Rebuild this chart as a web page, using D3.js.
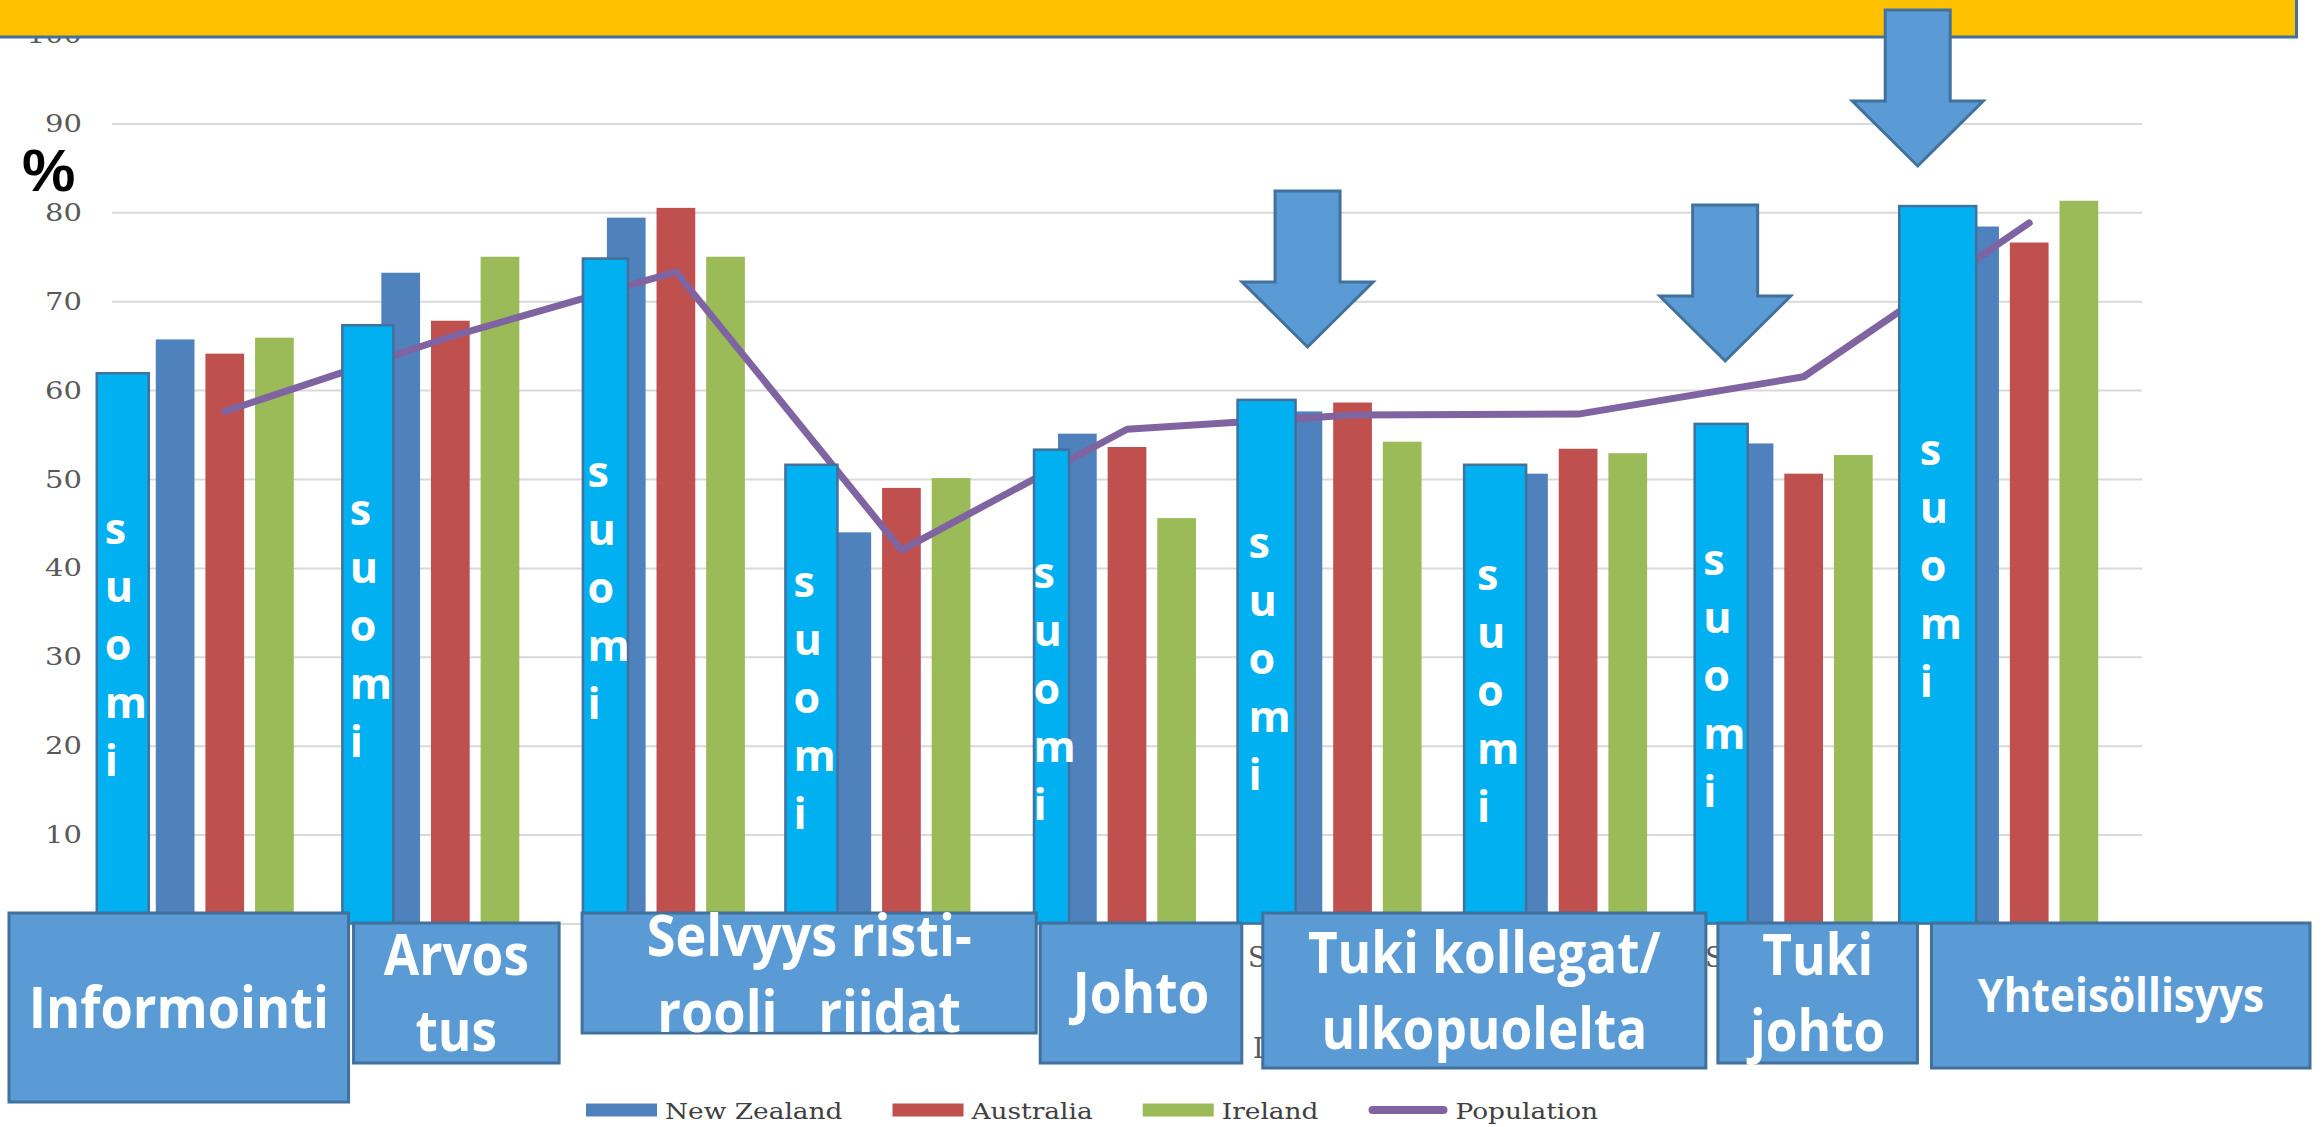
<!DOCTYPE html>
<html>
<head>
<meta charset="utf-8">
<script src="https://cdn.jsdelivr.net/npm/d3@7"></script>
<style>
  body { margin: 0; background: #fff; overflow: hidden; }
  svg { display: block; }
</style>
</head>
<body>
<div id="chart"></div>
<script>
// Data
const categories = ['Informointi', 'Arvostus', 'Selvyys rooli', 'Ristiriidat', 'Johto',
  'Tuki kollegat', 'Tuki ulkopuolelta', 'Tuki johto', 'Yhteisöllisyys'];
const seriesNames = ['New Zealand', 'Australia', 'Ireland'];
const newZealand = [65.7, 73.2, 79.4, 44.0, 55.1, 57.6, 50.6, 54.0, 78.4];
const australia = [64.1, 67.8, 80.5, 49.0, 53.6, 58.6, 53.4, 50.6, 76.6];
const ireland = [65.9, 75.0, 75.0, 50.1, 45.6, 54.2, 52.9, 52.7, 81.3];
const population = [57.6, 66.0, 73.3, 42.0, 55.6, 57.2, 57.3, 61.5, 78.8];
const suomi = [61.9, 67.3, 74.8, 51.6, 53.3, 58.9, 51.6, 56.2, 80.7];
const yTicks = [0, 10, 20, 30, 40, 50, 60, 70, 80, 90, 100];
const suomiLetters = ['s', 'u', 'o', 'm', 'i'];
const boxLabels = [['Informointi'], ['Arvos', 'tus'], ['Selvyys risti-', 'rooli   riidat'], ['Johto'],
  ['Tuki kollegat/', 'ulkopuolelta'], ['Tuki', 'johto'], ['Yhteisöllisyys']];
const arrowTargets = ['Tuki kollegat', 'Tuki johto', 'Yhteisöllisyys'];

// hand placed overlay shapes (px). suomi: [left, right] from category centre, first letter below bar top
const suomiPlace = [[-128, -76, 171], [-108, -57, 200], [-93, -48, 228], [-116, -64, 132], [-93, -58, 138],
  [-115, -57, 158], [-114, -52, 125], [-109, -56, 151], [-130, -53, 259]];
// label boxes: first/last category, offsets of left/right edge, top/bottom
const boxPlace = [
  { from: 0, to: 0, dl: -103, dr: 11, top: 913, bottom: 1102, size: 58 },
  { from: 1, to: 1, dl: 16, dr: -4, top: 923, bottom: 1063, size: 57 },
  { from: 2, to: 3, dl: 19, dr: 22, top: 913, bottom: 1033, size: 58 },
  { from: 4, to: 4, dl: 26, dr: 2, top: 923, bottom: 1063, size: 57 },
  { from: 5, to: 6, dl: 23, dr: 15, top: 913, bottom: 1068, size: 57 },
  { from: 7, to: 7, dl: 27, dr: 1, top: 923, bottom: 1063, size: 57 },
  { from: 8, to: 8, dl: 15, dr: 168, top: 923, bottom: 1068, size: 47 },
];
const arrowPlace = [{ dx: -45, top: 191 }, { dx: -78.5, top: 205 }, { dx: -111.5, top: 10 }];

// Variables
const w = 2323;
const h = 1127;
const plotLeft = 112;
const plotRight = 2142;
const clusterW = 138;
const colours = ['#4f81bd', '#c0504d', '#9bbb59'];
const seriesData = [newZealand, australia, ireland];
const serif = '"DejaVu Serif", "Liberation Serif", serif';

// Creating scales
const yScale = d3.scaleLinear().domain([0, 100]).range([923.5, 34.5]);
const x0 = d3.scaleBand().domain(categories).range([plotLeft, plotRight]);
const x1 = d3.scaleBand().domain(seriesNames).range([0, clusterW]).paddingInner(0.22);
const groupPad = (x0.bandwidth() - clusterW) / 2;
const centre = c => x0(c) + x0.bandwidth() / 2;

const svg = d3
  .select('#chart')
  .append('svg')
  .attr('width', w)
  .attr('height', h);

svg.append('rect').attr('width', w).attr('height', h).attr('fill', '#fff');

// grid + y labels
const yAxis = d3
  .axisLeft(yScale)
  .tickValues(yTicks)
  .tickSize(-(plotRight - plotLeft))
  .tickPadding(30);

const yg = svg
  .append('g')
  .attr('transform', `translate(${plotLeft}, 0)`)
  .call(yAxis);
yg.select('.domain').remove();
yg.selectAll('line').attr('stroke', '#d9d9d9').attr('stroke-width', 2);
yg.selectAll('text')
  .attr('font-family', serif)
  .attr('font-size', 25)
  .attr('fill', '#595959')
  .each(function () {
    const len = this.getComputedTextLength();
    d3.select(this).attr('textLength', len * 1.16).attr('lengthAdjust', 'spacingAndGlyphs');
  });

// chart bars
seriesNames.forEach((name, s) => {
  svg
    .append('g')
    .selectAll('rect')
    .data(seriesData[s])
    .enter()
    .append('rect')
    .attr('x', (d, i) => x0(categories[i]) + groupPad + x1(name))
    .attr('y', d => yScale(d))
    .attr('width', x1.bandwidth())
    .attr('height', d => yScale(0) - yScale(d))
    .attr('fill', colours[s]);
});

// population line
const line = d3
  .line()
  .x((d, i) => centre(categories[i]))
  .y(d => yScale(d));

svg
  .append('path')
  .datum(population)
  .attr('d', line)
  .attr('fill', 'none')
  .attr('stroke', '#8064a2')
  .attr('stroke-width', 7)
  .attr('stroke-linejoin', 'round')
  .attr('stroke-linecap', 'round');

// suomi overlay bars
const sg = svg
  .append('g')
  .selectAll('g')
  .data(suomi)
  .enter()
  .append('g');

sg.append('rect')
  .attr('x', (d, i) => centre(categories[i]) + suomiPlace[i][0])
  .attr('y', d => yScale(d))
  .attr('width', (d, i) => suomiPlace[i][1] - suomiPlace[i][0])
  .attr('height', d => yScale(0) - yScale(d))
  .attr('fill', '#00b0f0')
  .attr('stroke', '#41719c')
  .attr('stroke-width', 2.5);

sg.each(function (d, i) {
  const mid = centre(categories[i]) + (suomiPlace[i][0] + suomiPlace[i][1]) / 2;
  d3.select(this)
    .selectAll('text')
    .data(suomiLetters)
    .enter()
    .append('text')
    .text(l => l)
    .attr('x', mid - 18)
    .attr('y', (l, k) => yScale(d) + suomiPlace[i][2] + k * 58)
    .attr('font-family', '"Open Sans", sans-serif')
    .attr('font-weight', 'bold')
    .attr('font-size', 43)
    .attr('fill', '#fff');
});

// bits of the old category labels peeking out between boxes
const peek = [['S', 1248, 967], ['S', 1705, 967], ['I', 1253, 1058], ['(', 1929, 999]];
svg
  .append('g')
  .selectAll('text')
  .data(peek)
  .enter()
  .append('text')
  .text(d => d[0])
  .attr('x', d => d[1])
  .attr('y', d => d[2])
  .attr('font-family', serif)
  .attr('font-size', 27)
  .attr('fill', '#595959');

// label boxes
const bg = svg
  .append('g')
  .selectAll('g')
  .data(boxPlace)
  .enter()
  .append('g');

bg.append('rect')
  .attr('x', b => x0(categories[b.from]) + b.dl)
  .attr('y', b => b.top)
  .attr('width', b => x0(categories[b.to]) + x0.bandwidth() + b.dr - x0(categories[b.from]) - b.dl)
  .attr('height', b => b.bottom - b.top)
  .attr('fill', '#5b9bd5')
  .attr('stroke', '#41719c')
  .attr('stroke-width', 3);

bg.each(function (b, j) {
  const lines = boxLabels[j];
  const mx = (x0(categories[b.from]) + b.dl + x0(categories[b.to]) + x0.bandwidth() + b.dr) / 2;
  const my = (b.top + b.bottom) / 2;
  const cap = b.size * 0.714;
  d3.select(this)
    .selectAll('text')
    .data(lines)
    .enter()
    .append('text')
    .text(t => t)
    .attr('x', mx)
    .attr('y', (t, k) => my + cap / 2 + (k - (lines.length - 1) / 2) * 76)
    .attr('text-anchor', 'middle')
    .attr('font-family', '"Open Sans", sans-serif')
    .attr('font-weight', 'bold')
    .attr('font-size', b.size)
    .attr('fill', '#fff')
    .style('white-space', 'pre')
    .each(function () {
      const len = this.getComputedTextLength();
      d3.select(this).attr('textLength', len * 0.9).attr('lengthAdjust', 'spacingAndGlyphs');
    });
});

// legend
const legendItems = seriesNames.concat(['Population']);
let lx = 586;
legendItems.forEach((name, k) => {
  const g = svg.append('g');
  const sw = k < 3 ? 71 : 79;
  if (k < 3) {
    g.append('rect')
      .attr('x', lx)
      .attr('y', 1103.5)
      .attr('width', sw)
      .attr('height', 13)
      .attr('fill', colours[k]);
  } else {
    g.append('line')
      .attr('x1', lx + 4)
      .attr('x2', lx + sw - 4)
      .attr('y1', 1110)
      .attr('y2', 1110)
      .attr('stroke', '#8064a2')
      .attr('stroke-width', 8)
      .attr('stroke-linecap', 'round');
  }
  const t = g
    .append('text')
    .text(name)
    .attr('x', lx + sw + 8)
    .attr('y', 1119)
    .attr('font-family', serif)
    .attr('font-size', 22)
    .attr('fill', '#404040');
  const len = t.node().getComputedTextLength() * 1.2;
  t.attr('textLength', len).attr('lengthAdjust', 'spacingAndGlyphs');
  lx += sw + 8 + len + 50;
});

// yellow title banner
svg
  .append('rect')
  .attr('x', -5)
  .attr('y', -5)
  .attr('width', 2301.5)
  .attr('height', 42)
  .attr('fill', '#ffc000')
  .attr('stroke', '#41719c')
  .attr('stroke-width', 3);

// arrows
const arrowPath = (x, top) => {
  const sw = 32.5;
  const hw = 65.5;
  const shaft = 91;
  const head = 65;
  return `M${x - sw},${top} L${x + sw},${top} L${x + sw},${top + shaft} L${x + hw},${top + shaft}` +
    ` L${x},${top + shaft + head} L${x - hw},${top + shaft} L${x - sw},${top + shaft} Z`;
};

svg
  .append('g')
  .selectAll('path')
  .data(arrowTargets)
  .enter()
  .append('path')
  .attr('d', (c, i) => arrowPath(centre(c) + arrowPlace[i].dx, arrowPlace[i].top))
  .attr('fill', '#5b9bd5')
  .attr('stroke', '#41719c')
  .attr('stroke-width', 3)
  .attr('stroke-linejoin', 'miter');

// % label
svg
  .append('text')
  .text('%')
  .attr('x', 22)
  .attr('y', 191)
  .attr('font-family', '"Liberation Sans", Arial, sans-serif')
  .attr('font-weight', 'bold')
  .attr('font-size', 60)
  .attr('fill', '#000');
</script>
</body>
</html>
